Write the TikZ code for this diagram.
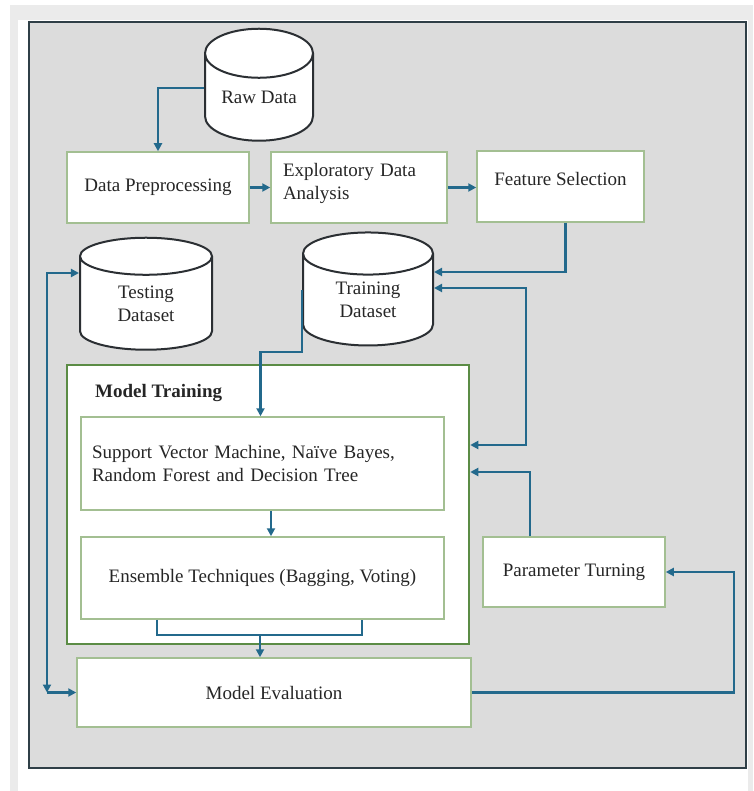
\documentclass[tikz,border=0pt]{standalone}
\usepackage{fontspec}
\setmainfont{Liberation Serif}
\usetikzlibrary{arrows.meta,shapes.geometric}

\definecolor{pagegray}{HTML}{EBEBEB}
\definecolor{panelgray}{HTML}{DCDCDC}
\definecolor{framecol}{HTML}{2F3F47}
\definecolor{boxgreen}{HTML}{A3BF92}
\definecolor{traingreen}{HTML}{5B8C45}
\definecolor{dbline}{HTML}{2B2F33}
\definecolor{flowblue}{HTML}{23698C}

\begin{document}
\begin{tikzpicture}[x=1pt, y=-1pt, >={Triangle[length=8pt,width=8pt]},
    txt/.style={font=\fontsize{19}{23}\selectfont, text=black!85},
    box/.style={txt, draw=boxgreen, line width=1.5pt, fill=white, inner sep=0pt},
    dbase/.style={txt, cylinder, shape border rotate=90, aspect=0.65, draw=dbline, line width=2pt, fill=white, align=center, inner sep=0pt},
    flow/.style={draw=flowblue, line width=2.5pt, ->},
    flowline/.style={draw=flowblue, line width=2.5pt}]
    \useasboundingbox (0,0) rectangle (753,791);
    \fill[pagegray] (10,5) rectangle (753,791);
    \fill[white] (18,20) rectangle (748,791);
    \draw[draw=framecol, line width=2.5pt, fill=panelgray] (29,22) rectangle (746,768);

    % data stages
    \node[dbase, minimum width=108pt, minimum height=112pt] (raw) at (259,97.5) {Raw Data};
    \node[box, minimum width=182pt, minimum height=71pt] (prep) at (158,187.5) {Data Preprocessing};
    \node[box, minimum width=176pt, minimum height=71pt, text width=152pt, align=left, text depth=36pt] (eda) at (359,187.5) {Exploratory Data\\Analysis};
    \node[box, minimum width=167pt, minimum height=71pt, text depth=16pt] (fs) at (560.5,186.5) {Feature Selection};
    \node[dbase, minimum width=132pt, minimum height=112pt] (test) at (146,303.5) {Testing\\Dataset};
    \node[dbase, minimum width=130pt, minimum height=113pt] (train) at (368,300) {Training\\Dataset};

    % model training block
    \node[draw=traingreen, line width=2.5pt, fill=white, minimum width=402pt, minimum height=279pt] (mt) at (268,504.5) {};
    \node[txt, font=\fontsize{19}{23}\selectfont\bfseries, anchor=west, inner sep=0pt] (mtlabel) at (95,393) {Model Training};
    \node[box, minimum width=363pt, minimum height=93pt, text width=341pt, align=left] (svm) at (262.5,463.5) {Support Vector Machine, Naïve Bayes,\\Random Forest and Decision Tree};
    \node[box, minimum width=363pt, minimum height=82pt] (ens) at (262.5,578) {Ensemble Techniques (Bagging, Voting)};
    \node[box, minimum width=394pt, minimum height=69pt] (eval) at (274,692.5) {Model Evaluation};
    \node[box, minimum width=182pt, minimum height=70pt] (par) at (574,572) {Parameter Turning};

    % connectors
    \draw[flow] ([yshift=9.5pt]raw.west) -| (prep.north);
    \draw[flow] (prep.east) -- (eda.west);
    \draw[flow] (eda.east) -- (eda.east -| fs.west);
    \draw[flow] ([xshift=5pt]fs.south) |- ([yshift=28pt]train.east);
    \draw[flow, <->] ([yshift=12pt]train.east) -- ++(92,0) |- ([yshift=59.5pt]mt.east);
    \draw[flow] ([xshift=-44pt]par.north) |- ([yshift=32.5pt]mt.east);
    \draw[flow] (eval.east) -- ++(262,0) |- (par.east);
    \draw[flow] ([yshift=10pt]train.west) -- ++(0,62) -| ([xshift=-2pt]svm.north);
    \draw[flow] ([xshift=8.5pt]svm.south) -- ([xshift=8.5pt]ens.north);
    \draw[flowline] ([xshift=-105.5pt]ens.south) -- ++(0,15) -| ([xshift=99.5pt]ens.south);
    \coordinate (join) at ([xshift=-2.5pt, yshift=-15pt]ens.south);
    \draw[flow] (join) -- (join |- eval.north);
    \draw[flow, <->] ([yshift=30.5pt]test.west) -- ++(-32,0) coordinate (tbend) -- (tbend |- eval.west);
    \draw[flow] (tbend |- eval.west) -- (eval.west);
\end{tikzpicture}
\end{document}
